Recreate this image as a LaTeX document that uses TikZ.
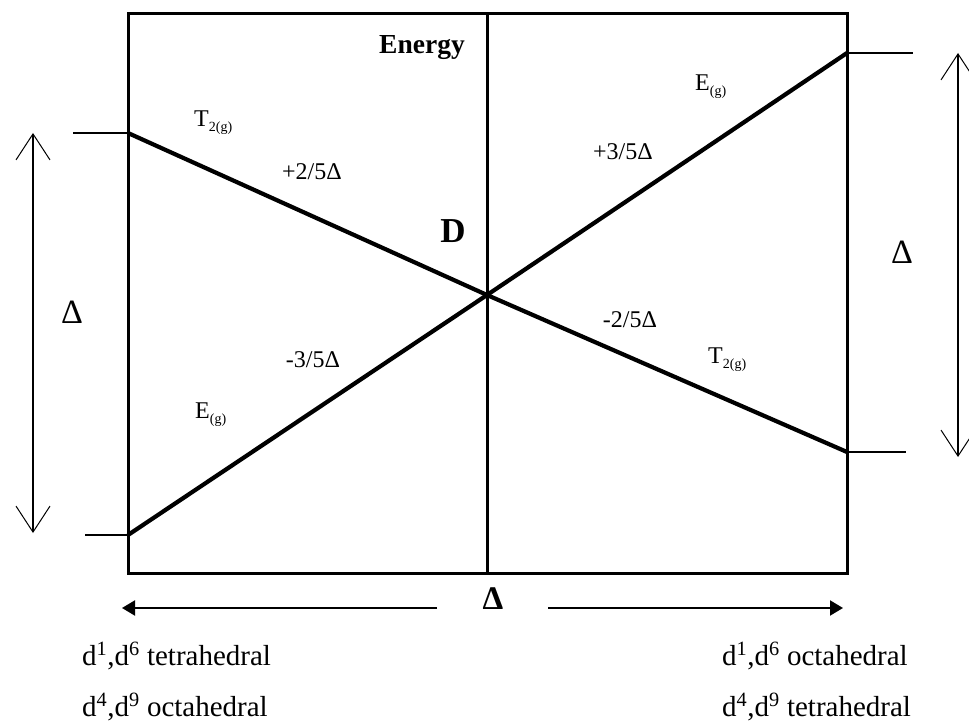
\documentclass[tikz,border=0pt]{standalone}
\usepackage{fontspec}
\setmainfont{Liberation Serif}
\usetikzlibrary{arrows.meta}
\begin{document}
\begin{tikzpicture}[x=1pt,y=-1pt,
  boxline/.style={line width=3pt},
  levelline/.style={line width=4.2pt},
  tickline/.style={line width=2pt},
  deltaarrow/.style={line width=1.8pt, {Straight Barb[length=26pt,width=34pt,line width=1pt]}-{Straight Barb[length=26pt,width=34pt,line width=1pt]}},
  axisarrow/.style={line width=2pt, -{Triangle[length=13pt,width=15pt]}},
  lbl/.style={inner sep=0pt, font=\fontsize{24}{26}\selectfont},
  bigdelta/.style={inner sep=0pt, font=\fontsize{34}{36}\selectfont},
  bottomtxt/.style={inner sep=0pt, anchor=base west, font=\fontsize{29}{32}\selectfont}
]
\newcommand{\sbs}[1]{\raisebox{-5pt}{\fontsize{14}{14}\selectfont #1}}
\useasboundingbox (0,0) rectangle (969,722);
% box
\coordinate (TL) at (128,14);
\coordinate (BR) at (847,573);
\coordinate (MT) at (487,14);
\coordinate (MB) at (487,573);
\draw[boxline] (TL) rectangle (BR);
\draw[boxline] (MT) -- (MB);
% level lines
\coordinate (T2L) at (128,133);
\coordinate (T2R) at (847,452);
\coordinate (EgL) at (128,535);
\coordinate (EgR) at (847,53);
\coordinate (X) at (487,295);
\draw[levelline] (T2L) -- (X) -- (T2R);
\draw[levelline] (EgL) -- (X) -- (EgR);
% ticks
\coordinate (tk1) at (73,133);
\coordinate (tk2) at (85,535);
\coordinate (tk3) at (913,53);
\coordinate (tk4) at (906,452);
\draw[tickline] (tk1) -- (T2L);
\draw[tickline] (tk2) -- (EgL);
\draw[tickline] (EgR) -- (tk3);
\draw[tickline] (T2R) -- (tk4);
% vertical delta arrows
\coordinate (la1) at (33,133);
\coordinate (la2) at (33,533);
\coordinate (ra1) at (958,53);
\coordinate (ra2) at (958,457);
\draw[deltaarrow] (la1) -- (la2);
\draw[deltaarrow] (ra1) -- (ra2);
\node[bigdelta] (dl) at (72,312) {Δ};
\node[bigdelta] (dr) at (902,252) {Δ};
% bottom arrows
\coordinate (ba1) at (437,608);
\coordinate (ba2) at (122,608);
\coordinate (ba3) at (548,608);
\coordinate (ba4) at (843,608);
\draw[axisarrow] (ba1) -- (ba2);
\draw[axisarrow] (ba3) -- (ba4);
\node[inner sep=0pt, font=\fontsize{33}{34}\selectfont\bfseries] (db) at (493,599) {Δ};
% labels
\node[inner sep=0pt, font=\fontsize{27.5}{29}\selectfont\bfseries] (energy) at (422,48) {Energy};
\node[inner sep=0pt, font=\fontsize{35}{38}\selectfont\bfseries] (D) at (453,231) {D};
\node[lbl, anchor=base west] (t2l) at (194,127) {T\sbs{2(g)}};
\node[lbl] (p25) at (312,172) {+2/5Δ};
\node[lbl, anchor=base west] (egr) at (695,91) {E\sbs{(g)}};
\node[lbl] (p35) at (623,152) {+3/5Δ};
\node[lbl] (m35) at (313,360) {-3/5Δ};
\node[lbl] (m25) at (630,320) {-2/5Δ};
\node[lbl, anchor=base west] (t2r) at (708,363) {T\sbs{2(g)}};
\node[lbl, anchor=base west] (egl) at (195,418) {E\sbs{(g)}};
% bottom texts
\node[bottomtxt] (b1) at (82,665) {d\textsuperscript{1},d\textsuperscript{6} tetrahedral};
\node[bottomtxt] (b2) at (82,716) {d\textsuperscript{4},d\textsuperscript{9} octahedral};
\node[bottomtxt] (b3) at (722,665) {d\textsuperscript{1},d\textsuperscript{6} octahedral};
\node[bottomtxt] (b4) at (722,716) {d\textsuperscript{4},d\textsuperscript{9} tetrahedral};
\end{tikzpicture}
\end{document}
